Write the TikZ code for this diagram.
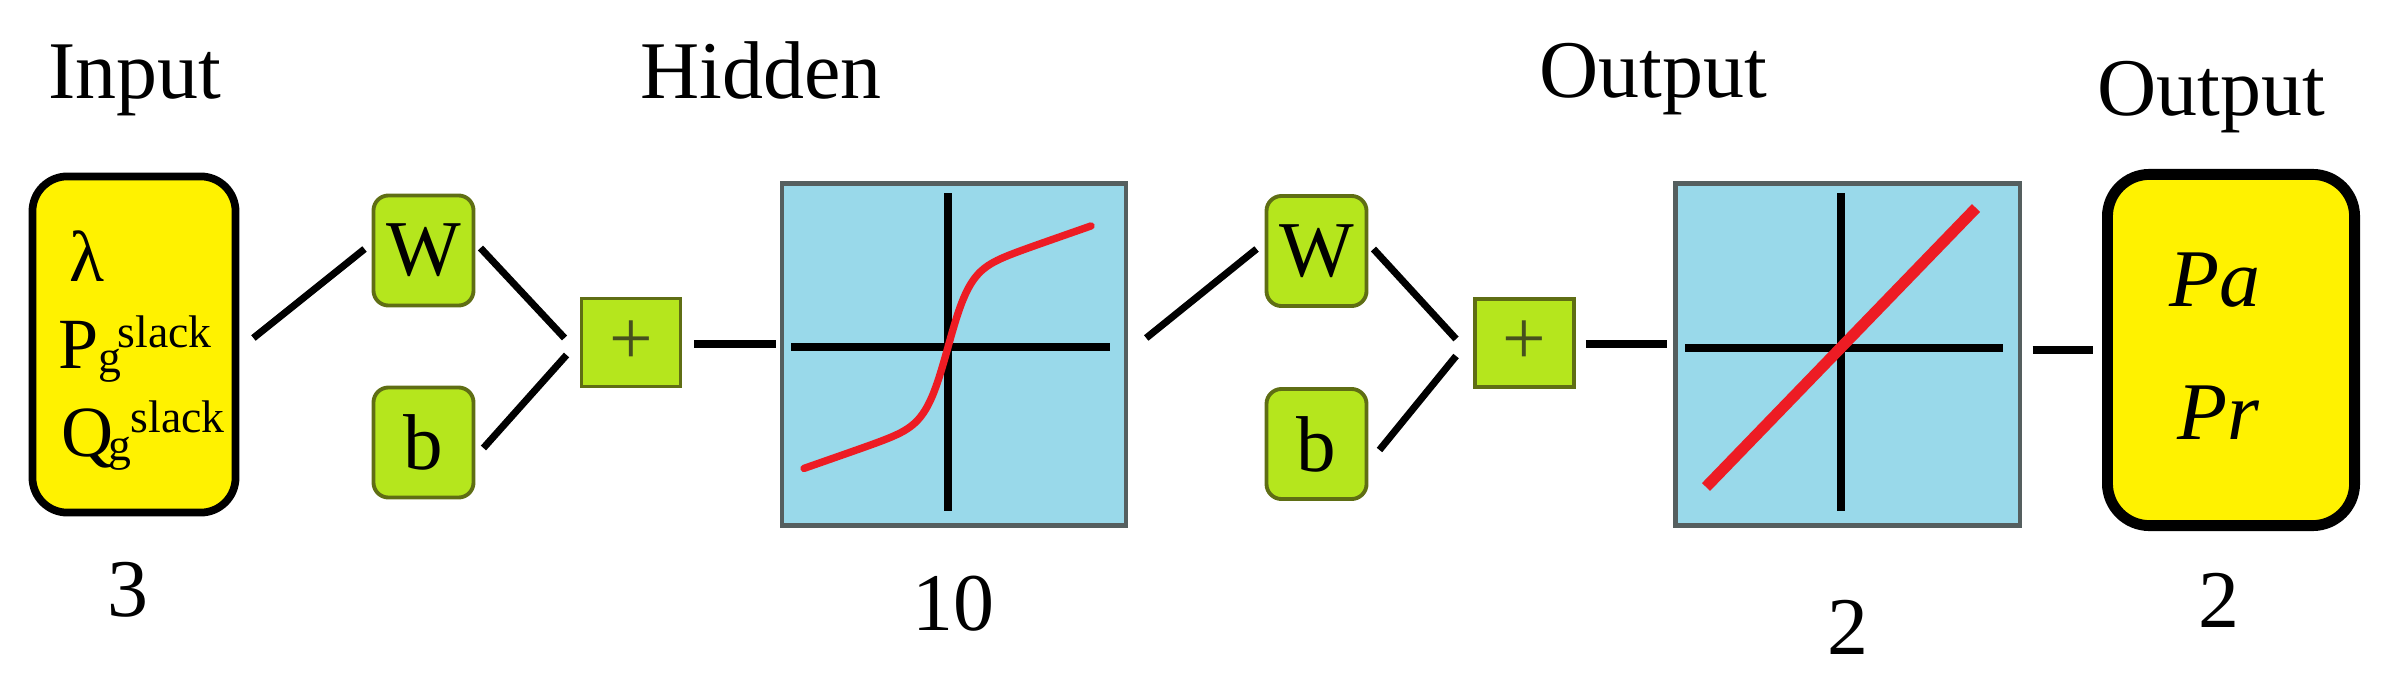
\documentclass[tikz,border=0pt]{standalone}
\usepackage{fontspec}
\setmainfont{Liberation Serif}
\usetikzlibrary{calc}
\definecolor{yel}{RGB}{255,242,0}
\definecolor{grn}{RGB}{181,230,29}
\definecolor{grnedge}{RGB}{95,110,20}
\definecolor{blu}{RGB}{153,217,234}
\definecolor{bluedge}{RGB}{85,95,95}
\definecolor{redc}{RGB}{237,28,36}
\definecolor{plusc}{RGB}{70,80,30}
\begin{document}
\begin{tikzpicture}[x=0.01cm,y=-0.01cm,
  big/.style={font=\fontsize{23.3}{28}\selectfont, inner sep=0pt},
  mid/.style={font=\fontsize{20.5}{24}\selectfont, inner sep=0pt},
  sup/.style={font=\fontsize{13}{15}\selectfont, inner sep=0pt},
  iobox/.style={draw=black, fill=yel, rounded corners=0.35cm, line width=2.2pt, inner sep=0pt},
  finbox/.style={draw=black, fill=yel, rounded corners=0.42cm, line width=3.1pt, inner sep=0pt},
  gbox/.style={draw=grnedge, fill=grn, rounded corners=0.15cm, line width=1.1pt, inner sep=0pt,
    minimum width=1.00cm, minimum height=1.10cm, font=\fontsize{22.5}{28}\selectfont},
  pbox/.style={draw=grnedge, fill=grn, line width=1.1pt, inner sep=0pt,
    minimum width=0.99cm, minimum height=0.88cm, text=plusc, font=\fontsize{22}{28}\selectfont},
  fbox/.style={draw=bluedge, fill=blu, line width=1.2pt, inner sep=0pt,
    minimum width=3.44cm, minimum height=3.42cm},
  conn/.style={line width=2pt},
  axis/.style={line width=2.1pt},
  sig/.style={draw=redc, line width=2.1pt, line cap=round},
  lin/.style={draw=redc, line width=3.2pt}]
\useasboundingbox (0,0) rectangle (2395,688);

% titles
\node[big, anchor=base] (tin) at (135,99) {Input};
\node[big, anchor=base] (thid) at (761,99) {Hidden};
\node[big, anchor=base] (tout) at (1653,98) {Output};
\node[big, anchor=base] (tfin) at (2211,116) {Output};

% bottom numbers
\node[big, anchor=base] (nin) at (128,616) {3};
\node[big, anchor=base] (nhid) at (953,630) {10};
\node[big, anchor=base] (nout) at (1848,654) {2};
\node[big, anchor=base] (nfin) at (2219,627) {2};

% input box
\node[iobox, minimum width=2.03cm, minimum height=3.36cm] (inp) at (134,344.5) {};
\node[mid, anchor=base west] (lam) at (69,281) {λ};
\node[mid, anchor=base west] (pp) at (58,368) {P};
\node[sup, anchor=base west] (pg) at (98,372) {g};
\node[sup, anchor=base west] (ps) at (117,347) {slack};
\node[mid, anchor=base west] (qq) at (61,456) {Q};
\node[sup, anchor=base west] (qg) at (108,460) {g};
\node[sup, anchor=base west] (qs) at (130,432) {slack};

% first layer
\node[gbox] (w1) at (423.5,250.5) {W};
\node[gbox] (b1) at (423.5,442.5) {b};
\node[pbox] (p1) at (631,342.5) {+};
\node[fbox] (hid) at (954,354.5) {};
\coordinate (ho) at (948,347);
\draw[axis] ($(ho)+(-157,0)$) -- ($(ho)+(162,0)$);
\draw[axis] ($(ho)+(0,-154)$) -- ($(ho)+(0,164)$);
\draw[sig] plot[domain=-144:143, samples=90, smooth] ({948+\x},{347-71*tanh(\x/22)-0.35*\x});

% second layer
\node[gbox] (w2) at (1316.5,251) {W};
\node[gbox] (b2) at (1316.5,444) {b};
\node[pbox] (p2) at (1524.5,343) {+};
\node[fbox] (out) at (1847.5,354.5) {};
\coordinate (oo) at (1841,348);
\draw[axis] ($(oo)+(-156,0)$) -- ($(oo)+(162,0)$);
\draw[axis] ($(oo)+(0,-155)$) -- ($(oo)+(0,163)$);
\draw[lin] (1706,487) -- (1976,208);

% final box
\node[finbox, minimum width=2.47cm, minimum height=3.51cm] (fin) at (2231,350) {};
\node[big, anchor=base] (pa) at (2215,306) {\itshape Pa};
\node[big, anchor=base] (pr) at (2218,439) {\itshape Pr};

% connectors
\draw[conn] ($(inp.east)+(14,-6.5)$) -- ($(w1.west)+(-7,-1.5)$);
\draw[conn] ($(w1.east)+(5,-2.5)$) -- ($(p1.west)+(-15,-4.5)$);
\draw[conn] ($(b1.east)+(8,5.5)$) -- ($(p1.west)+(-13,12.5)$);
\draw[conn] ($(p1.east)+(12,1.5)$) -- ($(hid.west)+(-4,-10.5)$);
\draw[conn] ($(hid.east)+(18,-16.5)$) -- ($(w2.west)+(-8,-2)$);
\draw[conn] ($(w2.east)+(5,-2)$) -- ($(p2.west)+(-17,-4)$);
\draw[conn] ($(b2.east)+(11,6)$) -- ($(p2.west)+(-17,13)$);
\draw[conn] ($(p2.east)+(10,1)$) -- ($(out.west)+(-6,-10.5)$);
\draw[conn] ($(out.east)+(11,-4.5)$) -- ($(fin.west)+(-9,0)$);
\end{tikzpicture}
\end{document}
